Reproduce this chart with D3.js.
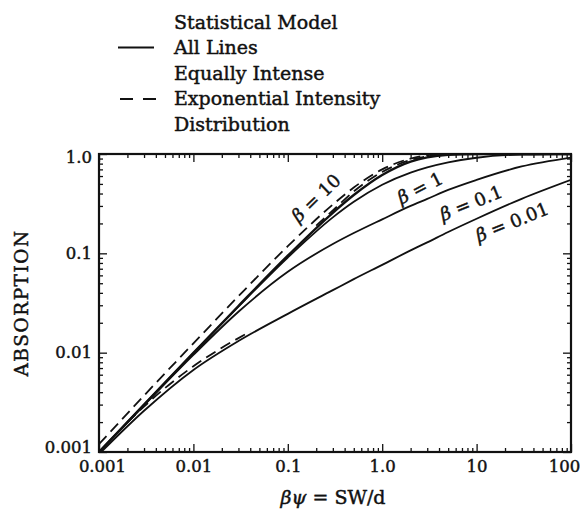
<!DOCTYPE html>
<html><head><meta charset="utf-8">
<script src="https://cdn.jsdelivr.net/npm/d3@7"></script>
<style>
body{margin:0;background:#fff}
svg{display:block}
text{font-family:"DejaVu Serif",serif;fill:#111;stroke:#111;stroke-width:0.45px}
</style>
</head><body>
<svg id="c" width="585" height="520"></svg>
<script>
// ---- data ----
const xTickValues = [0.001, 0.01, 0.1, 1, 10, 100];
const xTickLabels = ["0.001", "0.01", "0.1", "1.0", "10", "100"];
const yTickValues = [0.001, 0.01, 0.1, 1];
const yTickLabels = ["0.001", "0.01", "0.1", "1.0"];

const xsSolid = [0.001, 0.003, 0.01, 0.03, 0.1, 0.3, 0.5, 1, 2, 3, 5, 10, 30, 100];
const solidBeta10  = [0.001, 0.003, 0.00995, 0.0295, 0.0947, 0.256, 0.386, 0.614, 0.838, 0.926, 0.982, 0.999, 1.0, 1.0];
const solidBeta1   = [0.001, 0.003, 0.0099, 0.0291, 0.0908, 0.230, 0.330, 0.490, 0.649, 0.733, 0.824, 0.917, 0.987, 1.0];
const solidBeta01  = [0.001, 0.00295, 0.00948, 0.0258, 0.0652, 0.124, 0.160, 0.220, 0.300, 0.353, 0.435, 0.549, 0.749, 0.920];
const solidBeta001 = [0.00095, 0.0026, 0.0067, 0.0131, 0.0246, 0.0426, 0.055, 0.0766, 0.107, 0.129, 0.164, 0.223, 0.354, 0.550];

const xsDashTop = [0.001, 0.003, 0.01, 0.03, 0.1, 0.3, 0.5, 1, 2, 3, 5];
const dashTop   = [0.0012, 0.0037, 0.0124, 0.037, 0.118, 0.31, 0.46, 0.70, 0.90, 0.97, 1.0];
const xsDashMid = [0.2, 0.3, 0.5, 1, 2, 3, 5];
const dashMid   = [0.19, 0.27, 0.42, 0.66, 0.87, 0.95, 1.0];
const xsDashLow = [0.002, 0.005, 0.01, 0.02, 0.04];
const dashLow   = [0.0020, 0.0044, 0.0073, 0.0112, 0.0163];

const curveLabels = ["10", "1", "0.1", "0.01"];
const legendRows = ["Statistical Model", "All Lines", "Equally Intense", "Exponential Intensity", "Distribution"];

// ---- layout ----
const svg = d3.select("#c");
const L = 99, R = 571, T = 154, B = 452;
const x = d3.scaleLog().domain([0.001, 100]).range([L, R]);
const y = d3.scaleLog().domain([0.001, 1]).range([B, T]);

function minorTicks(dom) {
  const out = [];
  for (let e = Math.round(Math.log10(dom[0])); e < Math.round(Math.log10(dom[1])); e++) {
    for (let k = 2; k <= 9; k++) out.push(k * Math.pow(10, e));
  }
  return out;
}

const tickStyle = g => { g.select(".domain").remove(); g.selectAll("line").attr("stroke", "#111").attr("stroke-width", 1.3); };
svg.append("g").attr("transform", `translate(0,${B})`)
  .call(d3.axisBottom(x).tickValues(minorTicks(x.domain())).tickFormat("").tickSize(-4)).call(tickStyle);
svg.append("g").attr("transform", `translate(0,${T})`)
  .call(d3.axisTop(x).tickValues(minorTicks(x.domain())).tickFormat("").tickSize(-4)).call(tickStyle);
svg.append("g").attr("transform", `translate(${L},0)`)
  .call(d3.axisLeft(y).tickValues(minorTicks(y.domain())).tickFormat("").tickSize(-4)).call(tickStyle);
svg.append("g").attr("transform", `translate(${R},0)`)
  .call(d3.axisRight(y).tickValues(minorTicks(y.domain())).tickFormat("").tickSize(-4)).call(tickStyle);

const labelStyle = sel => sel.attr("font-size", 16.5).attr("font-family", "DejaVu Serif")
  .attr("fill", "#111").attr("stroke", "#111").attr("stroke-width", 0.75);

const xAx = svg.append("g").attr("transform", `translate(0,${B})`)
  .call(d3.axisBottom(x).tickValues(xTickValues).tickFormat((d, i) => xTickLabels[i]).tickSize(-8).tickPadding(8))
  .call(tickStyle);
xAx.selectAll("text").call(labelStyle)
  .attr("dx", (d, i) => i === 0 ? 3 : (i === 5 ? -7 : 0));
svg.append("g").attr("transform", `translate(0,${T})`)
  .call(d3.axisTop(x).tickValues(xTickValues).tickFormat("").tickSize(-8)).call(tickStyle);

const yAx = svg.append("g").attr("transform", `translate(${L},0)`)
  .call(d3.axisLeft(y).tickValues(yTickValues).tickFormat((d, i) => yTickLabels[i]).tickSize(-8).tickPadding(7))
  .call(tickStyle);
yAx.selectAll("text").call(labelStyle)
  .attr("dy", (d, i) => i === 0 ? "0.0em" : (i === 3 ? "0.5em" : "0.32em"));
svg.append("g").attr("transform", `translate(${R},0)`)
  .call(d3.axisRight(y).tickValues(yTickValues).tickFormat("").tickSize(-8)).call(tickStyle);

// frame
svg.append("rect").attr("x", L).attr("y", T).attr("width", R - L).attr("height", B - T)
  .attr("fill", "none").attr("stroke", "#111").attr("stroke-width", 2.2);

// curves
svg.append("clipPath").attr("id", "clip").append("rect")
  .attr("x", L).attr("y", T).attr("width", R - L).attr("height", B - T);
const gC = svg.append("g").attr("clip-path", "url(#clip)");
const line = d3.line().x(d => x(d[0])).y(d => y(d[1])).curve(d3.curveMonotoneX);
const pair = (xs, ys) => xs.map((v, i) => [v, ys[i]]);

[[solidBeta10, 2.4], [solidBeta1, 1.8], [solidBeta01, 1.8], [solidBeta001, 1.8]].forEach(([ys, w]) => {
  gC.append("path").attr("d", line(pair(xsSolid, ys)))
    .attr("fill", "none").attr("stroke", "#111").attr("stroke-width", w);
});
[[xsDashTop, dashTop], [xsDashMid, dashMid], [xsDashLow, dashLow]].forEach(([xs, ys]) => {
  gC.append("path").attr("d", line(pair(xs, ys)))
    .attr("fill", "none").attr("stroke", "#111").attr("stroke-width", 1.8)
    .attr("stroke-dasharray", "11,6");
});

// curve labels
const labelPos = [
  {cx: 316, cy: 198, a: -44},
  {cx: 420, cy: 188, a: -27},
  {cx: 471, cy: 203, a: -22},
  {cx: 512, cy: 222, a: -22}
];
curveLabels.forEach((lab, i) => {
  const p = labelPos[i];
  const t = svg.append("text").attr("transform", `translate(${p.cx},${p.cy}) rotate(${p.a})`)
    .attr("text-anchor", "middle").attr("dy", "0.35em").attr("font-size", 18);
  t.append("tspan").attr("font-style", "italic").text("β");
  t.append("tspan").text(" = " + lab);
});

// legend
const rowY = [22, 47.5, 73, 98.5, 124];
legendRows.forEach((s, i) => {
  svg.append("text").attr("x", 174).attr("y", rowY[i]).attr("dy", "0.35em")
    .attr("font-size", 19).text(s);
});
svg.append("line").attr("x1", 118).attr("x2", 154).attr("y1", 47.5).attr("y2", 47.5)
  .attr("stroke", "#111").attr("stroke-width", 2.2);
svg.append("line").attr("x1", 120).attr("x2", 156).attr("y1", 99).attr("y2", 99)
  .attr("stroke", "#111").attr("stroke-width", 2.2).attr("stroke-dasharray", "13,10");

// axis titles
const xt = svg.append("text").attr("x", 333).attr("y", 497).attr("dy", "0.35em")
  .attr("text-anchor", "middle").attr("font-size", 19);
xt.append("tspan").attr("font-style", "italic").text("βψ");
xt.append("tspan").text(" = SW/d");

svg.append("text").attr("transform", "translate(22,303) rotate(-90)")
  .attr("text-anchor", "middle").attr("dy", "0.35em")
  .attr("font-size", 18.5).attr("letter-spacing", 1.5).attr("stroke-width", 0.8)
  .text("ABSORPTION");
</script>
</body></html>
